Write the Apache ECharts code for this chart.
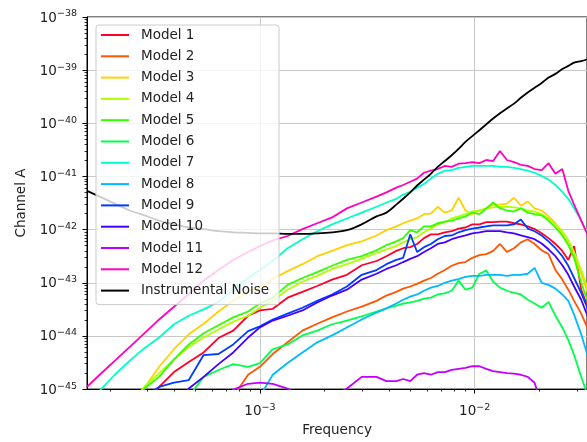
<!DOCTYPE html>
<html>
<head>
<meta charset="utf-8">
<script src="https://cdn.jsdelivr.net/npm/echarts@6/dist/echarts.min.js"></script>
<style>
html, body { margin: 0; padding: 0; background: #fff; }
#chart { width: 587px; height: 442px; }
</style>
</head>
<body>
<div id="chart"></div>
<script>
// values are log10 (x = frequency, y = channel A)
var logFreq = [-3.805,-3.746,-3.676,-3.607,-3.538,-3.469,-3.400,-3.331,-3.262,-3.193,
  -3.124,-3.055,-3.000,-2.940,-2.871,-2.802,-2.733,-2.664,-2.595,-2.526,
  -2.457,-2.411,-2.365,-2.333,-2.300,-2.268,-2.236,-2.204,-2.172,-2.139,
  -2.107,-2.075,-2.043,-2.011,-1.978,-1.946,-1.914,-1.882,-1.850,-1.817,
  -1.785,-1.753,-1.721,-1.688,-1.656,-1.624,-1.592,-1.564,-1.537,-1.504,-1.472];

var model1 = [null,null,null,null,-45.33,-44.96,-44.68,-44.49,-44.31,-44.04,
  -43.90,-43.62,-43.52,-43.49,-43.28,-43.17,-43.06,-42.94,-42.85,-42.67,
  -42.59,-42.50,-42.40,-42.35,-42.33,-42.27,-42.16,-42.09,-42.09,-42.05,
  -42.03,-41.98,-41.96,-41.90,-41.90,-41.86,-41.86,-41.85,-41.85,-41.88,
  -41.90,-41.94,-41.99,-42.07,-42.16,-42.27,-42.40,-42.57,-42.31,-43.13,-43.47];
var model2 = [null,null,null,null,null,null,null,null,null,null,
  -45.14,-44.73,-44.58,-44.34,-44.12,-43.90,-43.77,-43.65,-43.54,-43.45,
  -43.34,-43.24,-43.17,-43.11,-43.07,-43.02,-42.96,-42.91,-42.83,-42.76,
  -42.68,-42.63,-42.61,-42.53,-42.48,-42.46,-42.40,-42.27,-42.42,-42.35,
  -42.24,-42.18,-42.27,-42.39,-42.46,-42.76,-42.94,-43.13,-43.34,-43.58,-43.88];
var model3 = [null,null,-45.70,-45.33,-44.98,-44.58,-44.25,-43.97,-43.77,-43.54,
  -43.34,-43.17,-43.09,-42.93,-42.78,-42.65,-42.50,-42.40,-42.29,-42.22,
  -42.11,-42.01,-41.94,-41.88,-41.83,-41.79,-41.71,-41.70,-41.57,-41.68,
  -41.64,-41.40,-41.64,-41.71,-41.64,-41.60,-41.53,-41.53,-41.51,-41.40,
  -41.55,-41.47,-41.60,-41.64,-41.75,-41.88,-42.09,-42.27,-42.50,-42.83,-43.21];
var model4 = [null,null,null,-45.29,-44.96,-44.70,-44.44,-44.21,-44.03,-43.88,
  -43.73,-43.62,-43.47,-43.34,-43.13,-42.98,-42.87,-42.74,-42.65,-42.55,
  -42.44,-42.37,-42.31,-42.24,-42.18,-42.14,-42.05,-41.98,-41.90,-41.86,
  -41.79,-41.75,-41.71,-41.66,-41.64,-41.60,-41.58,-41.57,-41.57,-41.58,
  -41.60,-41.64,-41.66,-41.71,-41.79,-41.90,-42.03,-42.20,-42.42,-42.76,-43.13];
var model5 = [null,null,null,-45.33,-44.99,-44.77,-44.44,-44.16,-43.95,-43.80,
  -43.65,-43.54,-43.39,-43.28,-43.04,-42.91,-42.80,-42.68,-42.57,-42.50,
  -42.39,-42.29,-42.22,-42.16,-42.01,-42.05,-41.94,-41.94,-41.88,-41.85,
  -41.83,-41.79,-41.75,-41.68,-41.71,-41.60,-41.49,-41.60,-41.64,-41.66,
  -41.60,-41.68,-41.71,-41.73,-41.83,-41.96,-42.11,-42.29,-42.53,-43.00,-43.37];
var model6 = [null,null,null,null,null,null,null,-45.14,-44.77,-44.64,
  -44.53,-44.58,-44.51,-44.25,-44.16,-43.99,-43.90,-43.78,-43.71,-43.63,
  -43.54,-43.48,-43.43,-43.39,-43.37,-43.34,-43.30,-43.28,-43.22,-43.20,
  -43.15,-42.96,-43.13,-43.09,-42.83,-42.77,-42.98,-43.09,-43.15,-43.19,
  -43.22,-43.32,-43.39,-43.47,-43.36,-43.62,-43.84,-44.08,-44.36,-44.77,-45.14];
var model7 = [-45.33,-45.03,-44.73,-44.47,-44.23,-44.03,-43.78,-43.62,-43.50,-43.36,
  -43.13,-42.91,-42.76,-42.59,-42.35,-42.18,-42.03,-41.90,-41.79,-41.68,
  -41.57,-41.49,-41.42,-41.34,-41.29,-41.21,-41.14,-41.04,-40.95,-40.89,
  -40.88,-40.84,-40.82,-40.80,-40.80,-40.80,-40.80,-40.82,-40.82,-40.84,
  -40.86,-40.89,-40.93,-40.99,-41.06,-41.16,-41.29,-41.42,-41.60,-41.83,-42.09];
var model8 = [null,null,null,null,null,null,null,null,null,null,
  null,null,-45.14,-44.73,-44.51,-44.31,-44.12,-43.99,-43.84,-43.69,
  -43.56,-43.48,-43.39,-43.32,-43.26,-43.22,-43.15,-43.09,-43.06,-43.00,
  -42.96,-42.93,-42.89,-42.87,-42.87,-42.85,-42.85,-42.85,-42.87,-42.85,
  -42.85,-42.83,-42.72,-43.00,-43.04,-43.11,-43.22,-43.34,-43.60,-43.97,-44.40];
var model9 = [null,null,null,null,-45.14,-44.96,-44.88,-44.83,-44.36,-44.34,
  -44.16,-43.91,-43.82,-43.69,-43.58,-43.47,-43.34,-43.22,-43.07,-42.85,
  -42.76,-42.65,-42.57,-42.53,-42.09,-42.42,-42.33,-42.27,-42.18,-42.12,
  -42.11,-42.05,-42.01,-41.98,-41.96,-41.94,-41.92,-41.92,-41.92,-41.90,
  -41.81,-41.98,-42.03,-42.11,-42.22,-42.35,-42.50,-42.68,-42.91,-43.19,-43.50];
var model10 = [null,null,null,null,null,null,-45.33,-44.99,-44.77,-44.53,
  -44.31,-44.03,-43.84,-43.71,-43.62,-43.52,-43.37,-43.24,-43.13,-42.94,
  -42.83,-42.74,-42.67,-42.61,-42.55,-42.50,-42.42,-42.35,-42.27,-42.24,
  -42.18,-42.14,-42.11,-42.07,-42.05,-42.03,-42.03,-42.03,-42.05,-42.07,
  -42.11,-42.14,-42.18,-42.26,-42.37,-42.50,-42.67,-42.85,-43.07,-43.32,-43.65];
var model11 = [null,null,null,null,null,null,null,null,null,-45.40,
  -45.01,-44.90,-44.88,-44.90,-44.99,-45.14,-45.30,-45.14,-44.99,-44.77,
  -44.77,-44.85,-44.85,-44.81,-44.85,-44.73,-44.70,-44.73,-44.68,-44.68,
  -44.64,-44.62,-44.60,-44.57,-44.57,-44.62,-44.66,-44.68,-44.70,-44.71,
  -44.73,-44.77,-44.88,-45.30,null,null,null,null,null,null,null];
var model12 = [-44.96,-44.73,-44.47,-44.21,-43.95,-43.69,-43.45,-43.21,-42.96,-42.76,
  -42.57,-42.42,-42.31,-42.20,-42.12,-41.99,-41.88,-41.77,-41.60,-41.49,
  -41.38,-41.30,-41.21,-41.16,-41.10,-41.04,-40.93,-40.89,-40.86,-40.80,
  -40.82,-40.76,-40.75,-40.73,-40.75,-40.69,-40.71,-40.52,-40.69,-40.73,
  -40.78,-40.80,-40.86,-40.88,-40.75,-40.95,-40.86,-41.27,-41.53,-41.83,-42.12];
var noise = [-41.27,-41.38,-41.51,-41.64,-41.73,-41.83,-41.90,-41.96,-41.99,-42.03,
  -42.05,-42.06,-42.07,-42.07,-42.08,-42.08,-42.07,-42.05,-42.01,-41.90,
  -41.75,-41.68,-41.53,-41.42,-41.30,-41.17,-41.06,-40.95,-40.82,-40.71,
  -40.60,-40.48,-40.35,-40.24,-40.13,-40.02,-39.91,-39.81,-39.72,-39.63,
  -39.52,-39.42,-39.33,-39.24,-39.14,-39.07,-38.98,-38.92,-38.86,-38.83,-38.79];

var names = ['Model 1','Model 2','Model 3','Model 4','Model 5','Model 6','Model 7',
  'Model 8','Model 9','Model 10','Model 11','Model 12','Instrumental Noise'];
var values = [model1, model2, model3, model4, model5, model6, model7,
  model8, model9, model10, model11, model12, noise];
var colors = ['#ff0029','#ff5400','#ffd100','#afff00','#32ff00','#00ff4b','#00ffc7',
  '#00b9ff','#003bff','#4300ff','#c100ff','#ff00bf','#000000'];

// echarts rounds very small log ticks to 0, so the y axis counts in units of 1e-45
var Y_EXP = -45;
var yTickExp = [-45, -44, -43, -42, -41, -40, -39, -38];
var xTicks = [1e-3, 1e-2];
var xMinor = [2e-4,3e-4,4e-4,5e-4,6e-4,7e-4,8e-4,9e-4,
  2e-3,3e-3,4e-3,5e-3,6e-3,7e-3,8e-3,9e-3,2e-2,3e-2];

var yTicks = yTickExp.map(function (p) { return Math.pow(10, p - Y_EXP); });
var yMinor = [];
for (var e = 0; e < 7; e++) {
  for (var m = 2; m < 10; m++) yMinor.push(m * Math.pow(10, e));
}

var xMin = Math.pow(10, -3.805), xMax = Math.pow(10, -1.477);
var F = 'DejaVu Sans';

function pairs(arr) {
  var out = [];
  for (var i = 0; i < arr.length; i++) {
    if (arr[i] !== null) out.push([Math.pow(10, logFreq[i]), Math.pow(10, arr[i] - Y_EXP)]);
  }
  return out;
}
function sup(p) {
  return '{b|10}{s|' + (p < 0 ? '\u2212' : '') + Math.abs(p) + '}';
}
function xLabel(v) { return sup(Math.round(Math.log(v) / Math.LN10)); }
function yLabel(v) { return sup(Math.round(Math.log(v) / Math.LN10) + Y_EXP); }

var rich = {
  b: {fontFamily: F, fontSize: 13.5, lineHeight: 16, color: '#222', verticalAlign: 'bottom'},
  s: {fontFamily: F, fontSize: 9.5, lineHeight: 10, color: '#222', verticalAlign: 'top'}
};

var series = [];
for (var k = 0; k < names.length; k++) {
  series.push({
    name: names[k],
    type: 'line',
    data: pairs(values[k]),
    xAxisIndex: 0,
    yAxisIndex: 0,
    symbol: 'none',
    showSymbol: false,
    smooth: k === 12 ? 0.3 : false,
    clip: true,
    silent: true,
    color: colors[k],
    lineStyle: {color: colors[k], width: 1.8}
  });
}

var chart = echarts.init(document.getElementById('chart'));
chart.setOption({
  animation: false,
  backgroundColor: '#fff',
  grid: {left: 87, right: -6, top: 17, bottom: 50, show: true, borderColor: '#000', borderWidth: 1},
  legend: {
    orient: 'vertical', left: 96, top: 25,
    padding: [3, 10, 7, 4],
    itemWidth: 28, itemHeight: 14, itemGap: 7.3,
    backgroundColor: 'rgba(255,255,255,0.8)',
    borderColor: '#cccccc', borderWidth: 1, borderRadius: 3,
    itemStyle: {opacity: 0},
    textStyle: {fontFamily: F, fontSize: 13.5, lineHeight: 14, color: '#222', padding: [0, 0, 0, 7]},
    data: names
  },
  xAxis: [{
    type: 'log', gridIndex: 0, position: 'bottom', min: xMin, max: xMax,
    name: 'Frequency', nameLocation: 'middle', nameGap: 33,
    nameTextStyle: {fontFamily: F, fontSize: 13.5, color: '#222'},
    axisLine: {show: true, onZero: false, lineStyle: {color: '#000', width: 1}},
    axisTick: {show: true, customValues: xTicks, length: 4.5, lineStyle: {color: '#000', width: 1}},
    axisLabel: {customValues: xTicks, formatter: xLabel, margin: 13, rich: rich},
    splitLine: {show: true, lineStyle: {color: '#c8c8c8', width: 1}}
  }, {
    type: 'log', gridIndex: 0, position: 'bottom', min: xMin, max: xMax,
    axisLine: {show: false},
    axisTick: {show: true, customValues: xMinor, length: 2.5, lineStyle: {color: '#000', width: 0.8}},
    axisLabel: {show: false},
    splitLine: {show: false}
  }],
  yAxis: [{
    type: 'log', gridIndex: 0, position: 'left', min: 1, max: 1e7,
    name: 'Channel A', nameLocation: 'middle', nameGap: 56, nameRotate: 90,
    nameTextStyle: {fontFamily: F, fontSize: 13.5, color: '#222'},
    axisLine: {show: true, onZero: false, lineStyle: {color: '#000', width: 1}},
    axisTick: {show: true, customValues: yTicks, length: 4.5, lineStyle: {color: '#000', width: 1}},
    axisLabel: {customValues: yTicks, formatter: yLabel, margin: 10, rich: rich},
    splitLine: {show: true, lineStyle: {color: '#c8c8c8', width: 1}}
  }, {
    type: 'log', gridIndex: 0, position: 'left', min: 1, max: 1e7,
    axisLine: {show: false},
    axisTick: {show: true, customValues: yMinor, length: 2.5, lineStyle: {color: '#000', width: 0.8}},
    axisLabel: {show: false},
    splitLine: {show: false}
  }],
  series: series
});
</script>
</body>
</html>
